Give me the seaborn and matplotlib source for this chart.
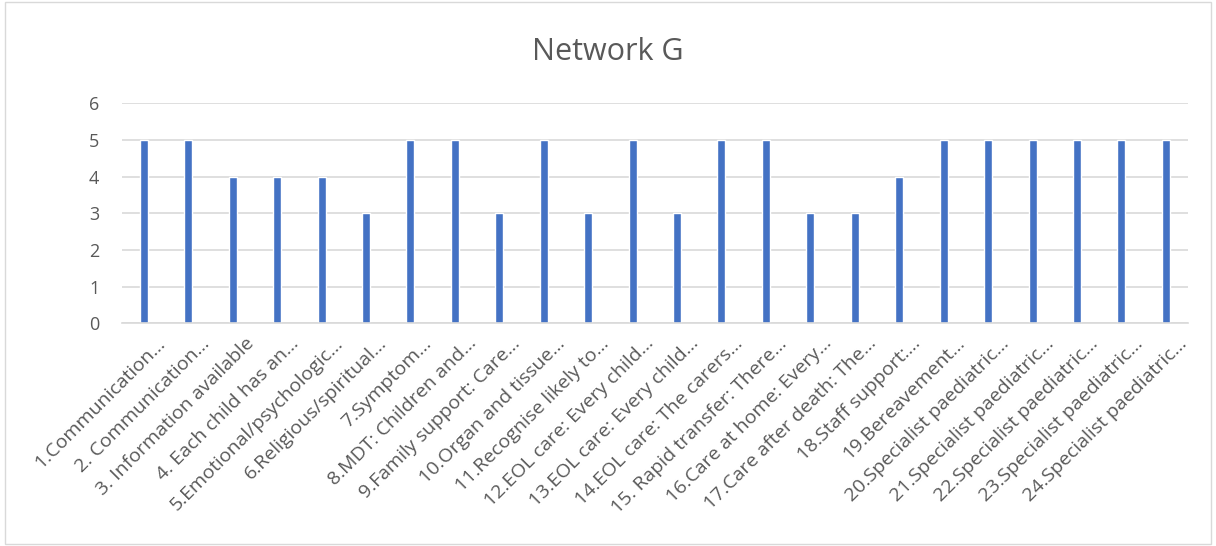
import matplotlib
matplotlib.use("Agg")
import matplotlib.pyplot as plt
import matplotlib.transforms as mtransforms
import seaborn as sns
import pandas as pd
from matplotlib.patches import Rectangle

labels = [
    "1.Communication…", "2. Communication…", "3. Information available",
    "4. Each child has an…", "5.Emotional/psychologic…", "6.Religious/spiritual…",
    "7.Symptom…", "8.MDT: Children and…", "9.Family support: Care…",
    "10.Organ and tissue…", "11.Recognise likely to…", "12.EOL care: Every child…",
    "13.EOL care: Every child…", "14.EOL care: The carers…", "15. Rapid transfer: There…",
    "16.Care at home: Every…", "17.Care after death: The…", "18.Staff support:…",
    "19.Bereavement…", "20.Specialist paediatric…", "21.Specialist paediatric…",
    "22.Specialist paediatric…", "23.Specialist paediatric…", "24.Specialist paediatric…",
]
scores = [5, 5, 4, 4, 4, 3, 5, 5, 3, 5, 3, 5, 3, 5, 5, 3, 3, 4, 5, 5, 5, 5, 5, 5]

df = pd.DataFrame({"item": labels, "score": scores})

sns.set_theme(style="white")
plt.rcParams["font.family"] = ["Open Sans", "DejaVu Sans"]

fig = plt.figure(figsize=(12.16, 5.46), dpi=100)
ax = fig.add_axes([0.100, 0.408, 0.877, 0.403])

sns.barplot(data=df, x="item", y="score", color="#4472C4", width=0.18,
            saturation=1, ax=ax)

ax.set_ylim(0, 6)
ax.set_yticks(range(0, 7))
ax.yaxis.grid(True, color="#D9D9D9", linewidth=1.2)
ax.set_axisbelow(True)
ax.set_xlabel("")
ax.set_ylabel("")
sns.despine(ax=ax, left=True, top=True, right=True)
ax.spines["bottom"].set_color("#D9D9D9")
ax.spines["bottom"].set_linewidth(1.2)
ax.tick_params(axis="both", length=0, colors="#595959", labelsize=13)
ax.tick_params(axis="y", pad=16)
ax.tick_params(axis="x", pad=8)
ax.set_xticks(range(len(labels)))
ax.set_xticklabels(labels, rotation=45, ha="right", rotation_mode="anchor",
                   fontsize=14, color="#595959")
ax.set_xlim(-0.5, len(labels) - 0.5)

# nudge the rotated labels a bit right, like Excel places them
offset = mtransforms.ScaledTranslation(12 / 100, 0, fig.dpi_scale_trans)
for lab in ax.get_xticklabels():
    lab.set_transform(lab.get_transform() + offset)

fig.text(0.5, 0.905, "Network G", ha="center", va="center", fontsize=22,
         color="#595959")

fig.patches.append(Rectangle((0.004, 0.004), 0.992, 0.992, transform=fig.transFigure,
                             fill=False, edgecolor="#D9D9D9", linewidth=1))

fig.savefig("out.png", dpi=100)
